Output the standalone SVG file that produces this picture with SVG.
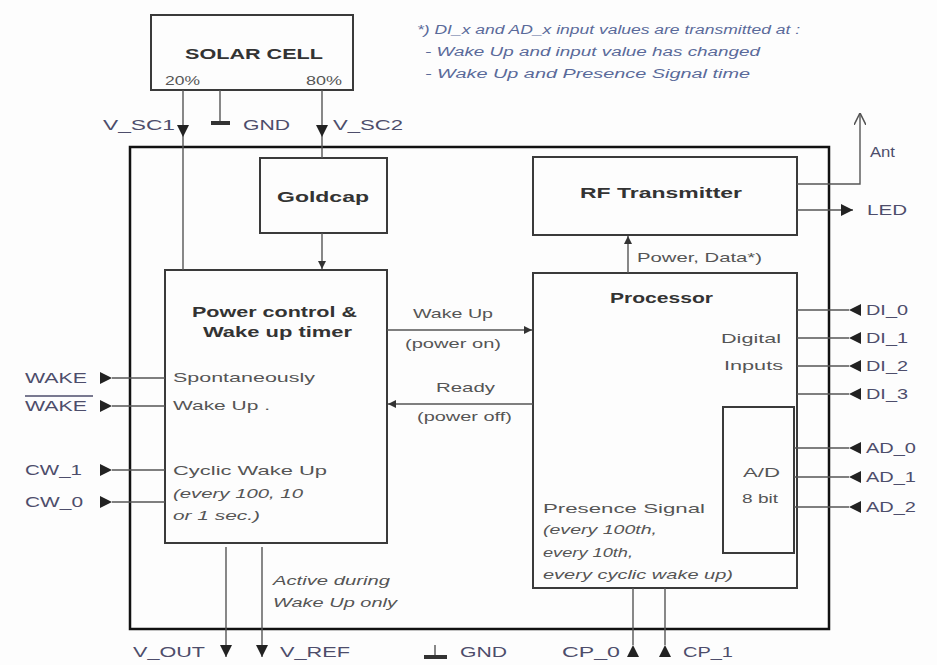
<svg xmlns="http://www.w3.org/2000/svg" width="937" height="665" viewBox="0 0 937 665">
<defs>
<style>
.bg{fill:#fdfdfd}
.box{fill:none;stroke:#3a3a3a;stroke-width:2}
.main{fill:none;stroke:#111;stroke-width:2.5}
.ln{fill:none;stroke:#555;stroke-width:1.4}
.gnd{fill:#333}
text{font-family:"Liberation Sans",Arial,sans-serif;}
.t{font-size:13px;fill:#555}
.ti{font-size:13px;fill:#555;font-style:italic}
.b{font-size:15px;fill:#333;font-weight:bold}
.sig{font-size:14px;fill:#4d4d6b}
.fn{font-size:12px;fill:#5a6a9a;font-style:italic}
</style>
<marker id="big" viewBox="0 0 10 10" refX="10" refY="5" markerWidth="12" markerHeight="12" markerUnits="userSpaceOnUse" orient="auto"><path d="M0,0 L10,5 L0,10 z" fill="#222"/></marker>
<marker id="sm" viewBox="0 0 10 10" refX="10" refY="5" markerWidth="8" markerHeight="8" markerUnits="userSpaceOnUse" orient="auto"><path d="M0,0 L10,5 L0,10 z" fill="#333"/></marker>
<marker id="open" viewBox="0 0 10 10" refX="10" refY="5" markerWidth="12" markerHeight="12" markerUnits="userSpaceOnUse" orient="auto"><path d="M0,0 L10,5 L0,10" fill="none" stroke="#555" stroke-width="1.3"/></marker>
</defs>
<rect class="bg" x="0" y="0" width="937" height="665"/>

<g id="footnote">
<text class="fn" x="417" y="34" textLength="383" lengthAdjust="spacingAndGlyphs">*) DI_x and AD_x input values are transmitted at :</text>
<text class="fn" x="425" y="56" textLength="335" lengthAdjust="spacingAndGlyphs">- Wake Up and input value has changed</text>
<text class="fn" x="425" y="78" textLength="325" lengthAdjust="spacingAndGlyphs">- Wake Up and Presence Signal time</text>
</g>

<g id="module">
<rect class="main" x="130" y="147" width="699" height="482"/>
</g>

<g id="solar-cell">
<rect class="box" x="151" y="15" width="202" height="75"/>
<text class="b" x="185" y="59" font-size="16" textLength="138" lengthAdjust="spacingAndGlyphs">SOLAR CELL</text>
<text class="t" x="165" y="85" textLength="35" lengthAdjust="spacingAndGlyphs">20%</text>
<text class="t" x="306" y="85" textLength="36" lengthAdjust="spacingAndGlyphs">80%</text>
</g>

<g id="goldcap">
<rect class="box" x="260" y="158" width="127" height="75"/>
<text class="b" x="277" y="202" textLength="92" lengthAdjust="spacingAndGlyphs">Goldcap</text>
</g>

<g id="rf-transmitter">
<rect class="box" x="533" y="157" width="264" height="78"/>
<text class="b" x="580" y="198" textLength="162" lengthAdjust="spacingAndGlyphs">RF Transmitter</text>
</g>

<g id="power-control">
<rect class="box" x="165" y="270" width="222" height="273"/>
<text class="b" x="192" y="317" textLength="165" lengthAdjust="spacingAndGlyphs">Power control &amp;</text>
<text class="b" x="203" y="337" textLength="149" lengthAdjust="spacingAndGlyphs">Wake up timer</text>
<text class="t" x="173" y="382" textLength="142" lengthAdjust="spacingAndGlyphs">Spontaneously</text>
<text class="t" x="173" y="410" textLength="97" lengthAdjust="spacingAndGlyphs">Wake Up .</text>
<text class="t" x="173" y="475" textLength="154" lengthAdjust="spacingAndGlyphs">Cyclic Wake Up</text>
<text class="ti" x="173" y="498" textLength="130" lengthAdjust="spacingAndGlyphs">(every 100, 10</text>
<text class="ti" x="173" y="520" textLength="87" lengthAdjust="spacingAndGlyphs">or 1 sec.)</text>
</g>

<g id="processor">
<rect class="box" x="533" y="273" width="264" height="315"/>
<text class="b" x="610" y="303" textLength="103" lengthAdjust="spacingAndGlyphs">Processor</text>
<text class="t" x="721" y="343" textLength="60" lengthAdjust="spacingAndGlyphs">Digital</text>
<text class="t" x="724" y="370" textLength="59" lengthAdjust="spacingAndGlyphs">Inputs</text>
<text class="t" x="543" y="513" textLength="162" lengthAdjust="spacingAndGlyphs">Presence Signal</text>
<text class="ti" x="543" y="534" textLength="114" lengthAdjust="spacingAndGlyphs">(every 100th,</text>
<text class="ti" x="543" y="557" textLength="90" lengthAdjust="spacingAndGlyphs">every 10th,</text>
<text class="ti" x="543" y="579" textLength="190" lengthAdjust="spacingAndGlyphs">every cyclic wake up)</text>
</g>

<g id="ad-converter">
<rect class="box" x="723" y="407" width="71" height="146"/>
<text class="t" x="743" y="477" textLength="37" lengthAdjust="spacingAndGlyphs">A/D</text>
<text class="t" x="742" y="503" textLength="36" lengthAdjust="spacingAndGlyphs">8 bit</text>
</g>

<g id="connectors">
<path class="ln" d="M183,90 V137" marker-end="url(#big)"/>
<path class="ln" d="M183,137 V270"/>
<path class="ln" d="M322,90 V137" marker-end="url(#big)"/>
<path class="ln" d="M322,137 V158"/>
<path class="ln" d="M220,90 V122"/>
<rect class="gnd" x="211" y="121" width="19" height="4"/>
<path class="ln" d="M322,233 V269" marker-end="url(#sm)"/>
<path class="ln" d="M628,273 V236" marker-end="url(#sm)"/>
<path class="ln" d="M387,330 H532" marker-end="url(#sm)"/>
<path class="ln" d="M533,404 H388" marker-end="url(#sm)"/>
<path class="ln" d="M797,184 H860 V113" marker-end="url(#open)"/>
<path class="ln" d="M797,210 H853" marker-end="url(#big)"/>
<path class="ln" d="M849,310 H797" marker-start="url(#big)"/>
<path class="ln" d="M849,338 H797" marker-start="url(#big)"/>
<path class="ln" d="M849,366 H797" marker-start="url(#big)"/>
<path class="ln" d="M849,394 H797" marker-start="url(#big)"/>
<path class="ln" d="M849,448 H794" marker-start="url(#big)"/>
<path class="ln" d="M849,477 H794" marker-start="url(#big)"/>
<path class="ln" d="M849,507 H794" marker-start="url(#big)"/>
<path class="ln" d="M112,378 H165" marker-start="url(#big)"/>
<path class="ln" d="M112,406 H165" marker-start="url(#big)"/>
<path class="ln" d="M112,470 H165" marker-start="url(#big)"/>
<path class="ln" d="M112,502 H165" marker-start="url(#big)"/>
<path class="ln" d="M226,547 V657" marker-end="url(#big)"/>
<path class="ln" d="M262,547 V657" marker-end="url(#big)"/>
<path class="ln" d="M633,645 V588" marker-start="url(#big)"/>
<path class="ln" d="M665,645 V588" marker-start="url(#big)"/>
<path class="ln" d="M435,645 V656"/>
<rect class="gnd" x="424" y="655" width="23" height="4"/>
</g>

<g id="labels">
<text class="sig" x="103" y="130" textLength="72" lengthAdjust="spacingAndGlyphs">V_SC1</text>
<text class="sig" x="243" y="130" textLength="47" lengthAdjust="spacingAndGlyphs">GND</text>
<text class="sig" x="333" y="130" textLength="70" lengthAdjust="spacingAndGlyphs">V_SC2</text>
<text class="t" x="637" y="262" textLength="125" lengthAdjust="spacingAndGlyphs">Power, Data*)</text>
<text class="t" x="413" y="318" textLength="80" lengthAdjust="spacingAndGlyphs">Wake Up</text>
<text class="t" x="405" y="348" textLength="96" lengthAdjust="spacingAndGlyphs">(power on)</text>
<text class="t" x="436" y="392" textLength="59" lengthAdjust="spacingAndGlyphs">Ready</text>
<text class="t" x="417" y="421" textLength="95" lengthAdjust="spacingAndGlyphs">(power off)</text>
<text class="sig" x="870" y="157" textLength="25" lengthAdjust="spacingAndGlyphs">Ant</text>
<text class="sig" x="867" y="215" textLength="40" lengthAdjust="spacingAndGlyphs">LED</text>
<text class="sig" x="866" y="315" textLength="42" lengthAdjust="spacingAndGlyphs">DI_0</text>
<text class="sig" x="866" y="343" textLength="42" lengthAdjust="spacingAndGlyphs">DI_1</text>
<text class="sig" x="866" y="371" textLength="42" lengthAdjust="spacingAndGlyphs">DI_2</text>
<text class="sig" x="866" y="399" textLength="42" lengthAdjust="spacingAndGlyphs">DI_3</text>
<text class="sig" x="866" y="453" textLength="50" lengthAdjust="spacingAndGlyphs">AD_0</text>
<text class="sig" x="866" y="482" textLength="50" lengthAdjust="spacingAndGlyphs">AD_1</text>
<text class="sig" x="866" y="512" textLength="50" lengthAdjust="spacingAndGlyphs">AD_2</text>
<text class="sig" x="25" y="383" textLength="62" lengthAdjust="spacingAndGlyphs">WAKE</text>
<line x1="25" y1="396" x2="93" y2="396" stroke="#4d4d6b" stroke-width="1.5"/>
<text class="sig" x="25" y="411" textLength="62" lengthAdjust="spacingAndGlyphs">WAKE</text>
<text class="sig" x="25" y="475" textLength="57" lengthAdjust="spacingAndGlyphs">CW_1</text>
<text class="sig" x="25" y="507" textLength="58" lengthAdjust="spacingAndGlyphs">CW_0</text>
<text class="ti" x="273" y="585" textLength="117" lengthAdjust="spacingAndGlyphs">Active during</text>
<text class="ti" x="273" y="607" textLength="124" lengthAdjust="spacingAndGlyphs">Wake Up only</text>
<text class="sig" x="133" y="657" textLength="72" lengthAdjust="spacingAndGlyphs">V_OUT</text>
<text class="sig" x="280" y="657" textLength="70" lengthAdjust="spacingAndGlyphs">V_REF</text>
<text class="sig" x="460" y="657" textLength="47" lengthAdjust="spacingAndGlyphs">GND</text>
<text class="sig" x="562" y="657" textLength="58" lengthAdjust="spacingAndGlyphs">CP_0</text>
<text class="sig" x="683" y="657" textLength="50" lengthAdjust="spacingAndGlyphs">CP_1</text>
</g>
</svg>
